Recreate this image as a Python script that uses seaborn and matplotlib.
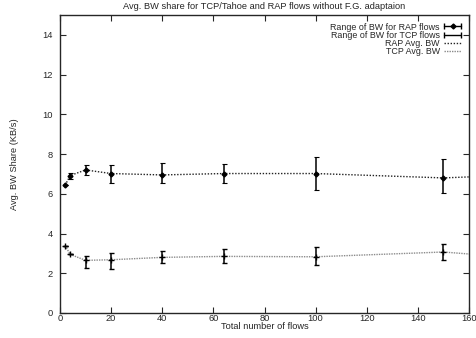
import matplotlib
matplotlib.use("Agg")
import matplotlib.pyplot as plt
from matplotlib.lines import Line2D
from matplotlib.legend_handler import HandlerLine2D, HandlerTuple
import seaborn as sns
import numpy as np
import pandas as pd

# measured points (flows, avg, range)
flows = [2, 4, 10, 20, 40, 64, 100, 150]
rap_avg = [6.43, 6.92, 7.20, 7.02, 6.95, 7.02, 7.02, 6.80]
rap_lo = [6.43, 6.77, 6.94, 6.52, 6.53, 6.52, 6.18, 6.04]
rap_hi = [6.43, 7.04, 7.46, 7.43, 7.54, 7.51, 7.83, 7.73]
tcp_avg = [3.39, 2.95, 2.65, 2.68, 2.80, 2.85, 2.83, 3.07]
tcp_lo = [3.39, 2.95, 2.28, 2.23, 2.52, 2.52, 2.43, 2.65]
tcp_hi = [3.39, 2.95, 2.85, 3.02, 3.12, 3.20, 3.31, 3.46]

# avg lines go on past the plotted range
line_flows = flows + [200]
rap_line = rap_avg + [7.05]
tcp_line = tcp_avg + [2.57]

RAP_C = '#222222'
TCP_C = '#8a8a8a'
FS = 6.7

sns.set_style("ticks")
plt.rcParams['font.family'] = ['Liberation Sans', 'DejaVu Sans']

fig = plt.figure(figsize=(4.76, 3.38), dpi=100)
ax = fig.add_axes([60 / 476, 25 / 338, 409 / 476, 298 / 338])

df = pd.DataFrame({
    'flows': line_flows * 2,
    'bw': rap_line + tcp_line,
    'series': ['RAP Avg. BW'] * len(line_flows) + ['TCP Avg. BW'] * len(line_flows),
})

sns.lineplot(data=df, x='flows', y='bw', hue='series', style='series',
             palette={'RAP Avg. BW': RAP_C, 'TCP Avg. BW': TCP_C},
             dashes={'RAP Avg. BW': (1, 1.2), 'TCP Avg. BW': (1, 0.8)},
             linewidth=1.0, ax=ax, zorder=2, legend=False)

# error bar series
rap_err = [np.array(rap_avg) - np.array(rap_lo), np.array(rap_hi) - np.array(rap_avg)]
tcp_err = [np.array(tcp_avg) - np.array(tcp_lo), np.array(tcp_hi) - np.array(tcp_avg)]
ax.errorbar(flows, rap_avg, yerr=rap_err, fmt='D', ms=2.5, color='black', ecolor='black',
            elinewidth=1.1, capsize=1.8, capthick=0.8, zorder=3)
ax.errorbar(flows, tcp_avg, yerr=tcp_err, fmt='+', ms=5, mew=1.0, color='black', ecolor='black',
            elinewidth=1.1, capsize=1.8, capthick=0.8, zorder=3)

ax.set_xlim(0, 160)
ax.set_ylim(0, 15)
ax.set_xticks(range(0, 161, 20))
ax.set_yticks(range(0, 15, 2))
ax.tick_params(direction='in', length=4, width=0.8, top=True, right=True, labelsize=FS)
ax.tick_params(axis='x', pad=1)
ax.tick_params(axis='y', pad=5)
for s in ax.spines.values():
    s.set_linewidth(1.0)
    s.set_visible(True)

ax.set_xlabel('Total number of flows', fontsize=FS, labelpad=-1)
ax.set_ylabel('Avg. BW Share (KB/s)', fontsize=FS, labelpad=17)
ax.set_title('Avg. BW share for TCP/Tahoe and RAP flows without F.G. adaptaion', fontsize=FS, pad=4)

# gnuplot-style legend samples: horizontal range bar with end caps
rap_caps = Line2D([], [], color='black', lw=1.0, marker='|', ms=4, mew=1.0)
rap_pt = Line2D([], [], color='black', marker='D', ms=2.5, ls='none')
tcp_caps = Line2D([], [], color='black', lw=1.0, marker='|', ms=4, mew=1.0)
rap_ln = Line2D([], [], color=RAP_C, lw=1.0, dashes=(1, 1.2))
tcp_ln = Line2D([], [], color=TCP_C, lw=1.0, dashes=(1, 0.8))

handles = [(rap_caps, rap_pt), tcp_caps, rap_ln, tcp_ln]
labels = ['Range of BW for RAP flows', 'Range of BW for TCP flows', 'RAP Avg. BW', 'TCP Avg. BW']
leg = ax.legend(handles, labels, loc='upper right', frameon=False, fontsize=6.4, markerfirst=False,
                numpoints=1, handlelength=2.0, labelspacing=-0.1, borderaxespad=0.45,
                handletextpad=0.45,
                handler_map={rap_caps: HandlerLine2D(numpoints=2, marker_pad=0),
                             tcp_caps: HandlerLine2D(numpoints=2, marker_pad=0),
                             tuple: HandlerTuple(ndivide=1, pad=0)})
for t in leg.get_texts():
    t.set_ha('right')

fig.savefig('out.png', dpi=100)
